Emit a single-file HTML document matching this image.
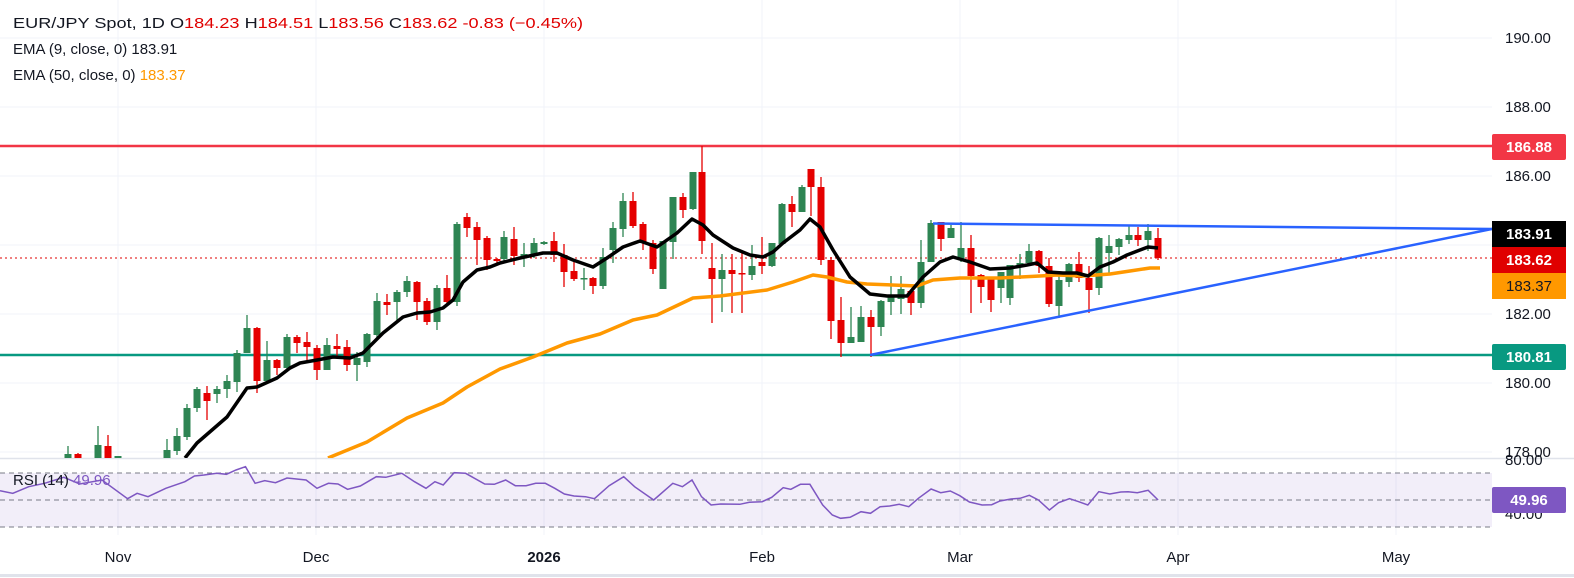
<!DOCTYPE html>
<html><head><meta charset="utf-8"><style>
html,body{margin:0;padding:0;background:#fff;}
svg{display:block;font-family:"Liberation Sans","DejaVu Sans",sans-serif;}
</style></head><body>
<svg id="c" width="1574" height="578" viewBox="0 0 1574 578" xmlns="http://www.w3.org/2000/svg">
<defs><clipPath id="main"><rect x="0" y="0" width="1492" height="458"/></clipPath>
<clipPath id="rsi"><rect x="0" y="459" width="1492" height="76"/></clipPath></defs>
<rect width="1574" height="578" fill="#fff"/>
<g id="grid" stroke="#f0f3fa" stroke-width="1"></g>
<rect x="0" y="473" width="1492" height="54" fill="#7e57c2" fill-opacity="0.1"/>
<g stroke="#787b86" stroke-width="1" stroke-dasharray="5 4">
<line x1="0" y1="473" x2="1492" y2="473"/><line x1="0" y1="500" x2="1492" y2="500"/><line x1="0" y1="527" x2="1492" y2="527"/></g>
<line x1="0" y1="458.5" x2="1574" y2="458.5" stroke="#e0e3eb" stroke-width="1.5"/>
<line x1="0" y1="575.5" x2="1574" y2="575.5" stroke="#e0e3eb" stroke-width="3"/>
<line x1="0" y1="146" x2="1492" y2="146" stroke="#f23645" stroke-width="2.5"/>
<line x1="0" y1="355" x2="1492" y2="355" stroke="#089981" stroke-width="2.5"/>
<line x1="0" y1="258" x2="1492" y2="258" stroke="#e00000" stroke-width="1" stroke-dasharray="2 3"/>
<g clip-path="url(#main)">
<g id="candles"></g>
<polyline id="ema50" fill="none" stroke="#ff9800" stroke-width="3.5" stroke-linejoin="round"/>
<polyline id="ema9" fill="none" stroke="#000" stroke-width="3.5" stroke-linejoin="round"/>
<line x1="933" y1="223.5" x2="1492" y2="229" stroke="#2962ff" stroke-width="2.5"/>
<line x1="870" y1="355" x2="1492" y2="229" stroke="#2962ff" stroke-width="2.5"/>
</g>
<g clip-path="url(#rsi)"><polyline id="rsiL" fill="none" stroke="#7e57c2" stroke-width="1.5"/></g>
<g font-size="15" fill="#131722">
<text x="13" y="28" textLength="570" lengthAdjust="spacingAndGlyphs">EUR/JPY Spot, 1D  O<tspan fill="#e00000">184.23</tspan>  H<tspan fill="#e00000">184.51</tspan>  L<tspan fill="#e00000">183.56</tspan>  C<tspan fill="#e00000">183.62</tspan>  <tspan fill="#e00000">-0.83 (−0.45%)</tspan></text>
<text x="13" y="54">EMA (9, close, 0)  183.91</text>
<text x="13" y="80">EMA (50, close, 0)  <tspan fill="#ff9800">183.37</tspan></text>
<text x="13" y="485">RSI (14)  <tspan fill="#7e57c2">49.96</tspan></text>
</g>
<g id="axis" font-size="15" fill="#131722"></g>
<g font-size="15" fill="#131722" text-anchor="middle">
<text x="118" y="562">Nov</text><text x="316" y="562">Dec</text><text x="544" y="562" font-weight="bold">2026</text>
<text x="762" y="562">Feb</text><text x="960" y="562">Mar</text><text x="1178" y="562">Apr</text><text x="1396" y="562">May</text></g>
<g font-size="15" font-weight="bold" text-anchor="middle">
<rect x="1492" y="134" width="74" height="26" rx="2" fill="#f23645"/><text x="1529" y="152" fill="#fff">186.88</text>
<rect x="1492" y="221" width="74" height="26" fill="#000"/><text x="1529" y="239" fill="#fff">183.91</text>
<rect x="1492" y="247" width="74" height="26" fill="#e00000"/><text x="1529" y="265" fill="#fff">183.62</text>
<rect x="1492" y="273" width="74" height="26" fill="#ff9800"/><text x="1529" y="291" fill="#131722" font-weight="normal">183.37</text>
<rect x="1492" y="344" width="74" height="26" rx="2" fill="#089981"/><text x="1529" y="362" fill="#fff">180.81</text>
<rect x="1492" y="487" width="74" height="26" rx="2" fill="#7e57c2"/><text x="1529" y="505" fill="#fff">49.96</text>
</g>
</svg>
<script>
var NS="http://www.w3.org/2000/svg";
function el(t,a,p){var e=document.createElementNS(NS,t);for(var k in a)e.setAttribute(k,a[k]);document.getElementById(p).appendChild(e);return e;}
[38,107,176,245,314,383,452].forEach(function(y){el("line",{x1:0,y1:y,x2:1492,y2:y},"grid");});
[118,316,544,762,960,1178,1396].forEach(function(x){el("line",{x1:x,y1:0,x2:x,y2:535},"grid");});
var lab=[[38,"190.00"],[107,"188.00"],[176,"186.00"],[314,"182.00"],[383,"180.00"],[452,"178.00"],[460,"80.00"],[514,"40.00"]];
lab.forEach(function(l){var t=el("text",{x:1505,y:l[0]+5},"axis");t.textContent=l[1];});
var G="#2e8553",R="#e50000";
var C=[[68,454,458,446,458,G],[78,454,458,453,458,R],[98,445,458,426,458,G],[108,446,458,435,458,R],[118,456,458,456,458,G],[167,450,458,439,458,G],[177,436,451,428,455,G],[187,408,437,404,440,G],[197,389,408,387,412,G],[207,393,401,386,420,R],[217,389,394,386,403,G],[227,381,389,375,398,G],[237,353,382,350,392,G],[247,328,353,315,353,G],[257,328,381,327,393,R],[267,360,381,341,381,G],[277,360,368,359,375,R],[287,337,368,334,372,G],[297,337,343,335,353,R],[307,342,347,332,360,R],[317,348,370,345,380,R],[327,345,370,338,370,G],[337,346,349,334,357,R],[347,347,365,340,371,R],[357,358,365,352,381,G],[367,334,362,333,367,G],[377,301,335,293,338,G],[387,302,305,294,315,R],[397,292,302,290,320,G],[407,281,292,276,297,G],[417,282,302,281,320,R],[427,301,322,298,325,R],[437,288,322,285,330,G],[447,288,302,275,305,R],[457,224,302,222,306,G],[467,217,228,213,237,R],[477,227,240,222,265,R],[487,238,260,236,270,R],[497,259,261,258,263,R],
[504,237,259,231,262,G],[514,239,256,227,265,R],[524,254,256,243,267,G],[534,243,256,238,258,G],[544,242,244,241,245,G],[554,241,255,232,262,R],[564,255,272,244,287,R],[574,271,279,260,281,R],[584,278,279,268,290,G],[593,278,286,277,294,R],[603,257,286,248,289,G],[613,228,250,222,263,G],[623,201,229,193,237,G],[633,201,226,192,228,R],[643,224,243,222,250,R],[653,243,269,240,274,R],[663,241,289,241,289,G],[673,197,242,197,259,G],[683,197,210,193,218,R],[693,172,209,172,210,G],[702,172,241,146,254,R],[712,268,279,243,323,R],[722,270,279,254,312,G],[732,270,274,254,313,R],[742,273,274,253,313,R],[752,266,275,245,280,G],[762,262,266,237,274,R],[772,243,266,243,267,G],[782,204,244,203,244,G],[792,204,212,196,227,R],[802,187,212,185,212,G],[811,169,187,169,216,R],[821,187,260,177,265,R],[831,260,321,257,339,R],[841,320,343,297,357,R],[851,337,343,307,343,G],[861,317,342,306,342,G],[871,317,327,310,357,R],[881,301,327,300,336,G],[891,297,302,276,315,G],[901,289,299,276,314,G],[911,291,303,290,315,R],[921,262,303,240,308,G],[931,223,262,220,262,G],[941,222,239,222,251,R],[951,228,238,225,238,G],[961,248,259,222,262,G],[971,248,276,235,313,R],[981,275,287,274,303,R],[991,278,300,277,312,R],[1001,272,288,272,303,G],
[1010,265,298,265,305,G],[1020,263,266,254,279,G],[1029,251,263,244,263,G],[1039,251,266,250,273,R],[1049,266,304,258,307,R],[1059,280,306,276,318,G],[1069,264,282,263,287,G],[1079,264,278,252,282,R],[1089,278,290,266,313,R],[1099,238,288,237,295,G],[1109,246,253,235,273,G],[1119,239,247,238,255,G],[1129,235,240,225,244,G],[1138,235,240,227,246,R],[1148,231,240,224,251,G],[1158,238,258,228,260,R]];
C.forEach(function(c){el("line",{x1:c[0],y1:c[3],x2:c[0],y2:c[4],stroke:c[5],"stroke-width":1.3},"candles");
el("rect",{x:c[0]-3.5,y:c[1],width:7,height:Math.max(1.5,c[2]-c[1]),fill:c[5]},"candles");});
var e9=[[185,458],[197,443],[227,417],[247,388],[257,387],[277,378],[290,368],[300,363],[317,360],[333,357],[350,358],[363,353],[383,333],[403,317],[417,313],[430,312],[443,308],[453,300],[463,282],[477,270],[490,267],[500,263],[520,258],[543,253],[557,253],[573,260],[593,267],[607,258],[623,247],[640,241],[657,247],[677,233],[692,219],[703,225],[713,235],[733,248],[750,255],[763,257],[773,252],[783,243],[800,230],[810,219],[820,227],[833,250],[850,277],[870,294],[887,296],[907,296],[923,277],[940,262],[953,257],[970,262],[990,269],[1010,268],[1027,265],[1037,263],[1048,272],[1063,273],[1077,273],[1088,276],[1100,267],[1113,262],[1127,255],[1140,250],[1148,247],[1158,248]];
var e50=[[328,458],[367,442],[407,418],[443,403],[467,387],[500,369],[533,357],[567,343],[600,334],[633,320],[657,315],[693,298],[720,296],[767,290],[793,282],[813,275],[827,277],[847,282],[867,284],[917,286],[933,280],[960,278],[1000,278],[1040,276],[1057,275],[1083,276],[1110,274],[1130,271],[1150,268],[1160,268]];
function pts(a){return a.map(function(p){return p.join(",");}).join(" ");}
document.getElementById("ema9").setAttribute("points",pts(e9));
document.getElementById("ema50").setAttribute("points",pts(e50));
var r1=[[0,152],[20,160],[45,140],[70,130],[100,112],[125,132],[160,120],[200,176],[215,160],[232,170],[260,145],[290,125],[305,108],[320,105],[340,100],[355,103],[370,90],[385,80],[400,130],[415,122],[432,128],[450,114],[480,120],[497,145],[515,130],[530,132],[545,148],[565,138],[590,110],[605,112],[630,100],[650,125],[668,145],[682,125],[695,135],[712,98],[730,100],[760,132],[775,133],[793,120],[808,137],[825,137],[840,130],[855,130],[870,145],[885,162],[900,168],[918,170],[932,176],[955,137],[978,110],[995,140],[1025,180],[1055,130],[1070,140],[1085,120],[1100,170],[1115,195],[1130,192],[1160,193],[1175,187],[1195,185],[1210,172],[1228,143],[1240,148],[1255,133],[1270,133],[1290,195],[1305,225],[1318,235],[1333,232],[1350,215],[1365,220],[1380,200],[1395,198],[1410,193],[1425,200],[1440,175],[1460,147],[1475,158],[1490,153],[1505,167],[1520,186],[1540,195],[1555,194],[1568,183]];
var r2=[[30,207],[55,205],[80,196],[105,210],[135,240],[160,218],[190,206],[215,215],[240,225],[270,185],[300,192],[330,186],[350,185],[375,188],[405,181],[432,210]];
var rp=r1.map(function(p){return [(p[0]/1.568).toFixed(1),(440+p[1]/3).toFixed(1)];}).concat(r2.map(function(p){return [(1000+p[0]/2.732).toFixed(1),(430+p[1]/3).toFixed(1)];}));
document.getElementById("rsiL").setAttribute("points",pts(rp));
</script>
</body></html>
